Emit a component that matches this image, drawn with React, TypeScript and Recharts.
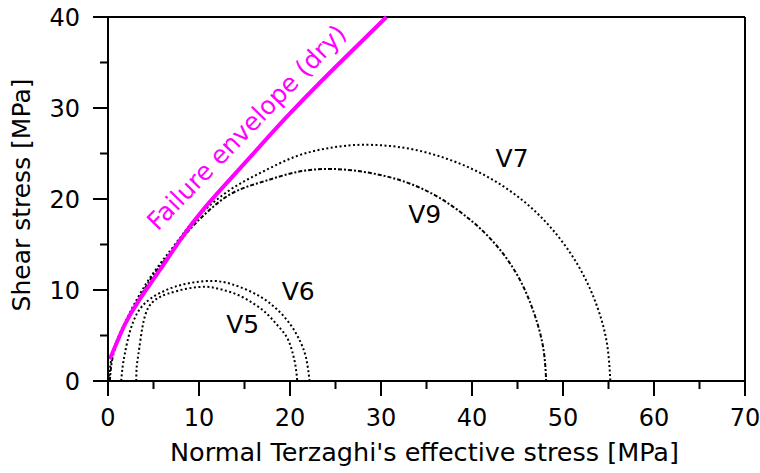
import React from "react";
import { LineChart, Line, XAxis, YAxis, ReferenceLine, ReferenceDot, Label } from "recharts";

const FONT = "'DejaVu Sans', sans-serif";
const MAGENTA = "#ff00ff";

const X_TICKS = [0, 5, 10, 15, 20, 25, 30, 35, 40, 45, 50, 55, 60, 65, 70];
const Y_TICKS = [0, 5, 10, 15, 20, 25, 30, 35, 40];

// failure envelope (dry)
const envelope: [number, number][] = [
  [0.2, 2.4], [1.8, 6.1], [3.3, 8.7], [5.7, 12.2], [8, 15.6], [10.6, 19],
  [13.9, 22.7], [16.7, 25.8], [20, 29.4], [24.7, 34.2], [30.6, 40],
];

// stress circles (normal stress, shear stress)
const v5: [number, number][] = [
  [3.1, 0], [3.15, 1.5], [3.35, 3], [3.8, 6], [4.4, 8.0], [5.3, 9.0], [6.6, 9.6],
  [8.7, 10.15], [10.8, 10.35], [12.5, 10.05], [14.3, 9.45], [16, 8.5], [17.4, 7.45],
  [18.6, 6.15], [19.6, 4.9], [20.2, 3.4], [20.6, 1.7], [20.8, 0],
];

const v6: [number, number][] = [
  [1.45, 0], [1.6, 1.5], [1.85, 3], [2.4, 5.4], [3.3, 7.6], [4.75, 9.1], [6.9, 10.2],
  [9.2, 10.8], [11.5, 11.0], [13.4, 10.7], [15.3, 10.0], [17.0, 9.1], [18.5, 7.95],
  [19.9, 6.4], [21.0, 4.6], [21.75, 2.6], [22.15, 0],
];

const v7: [number, number][] = [
  [0.1, 0], [0.3, 2], [0.8, 4], [1.8, 6.3], [3.3, 9.2], [5, 11.9], [6.9, 14.4],
  [8.5, 16.5], [10.2, 18.4], [13.4, 21.0], [17, 23], [20.7, 24.7], [24.3, 25.6],
  [28, 25.96], [32.7, 25.6], [37.3, 24.4], [41.6, 22.5], [45.5, 19.9], [48.8, 16.7],
  [51.6, 12.8], [53.6, 8.6], [54.8, 4.3], [55.2, 0],
];

const v9: [number, number][] = [
  [0.2, 0], [0.4, 2], [0.9, 4], [1.9, 6.3], [3.5, 9.2], [5.1, 11.8], [7, 14.2],
  [8.6, 16.2], [10.3, 18.0], [13.4, 20.5], [17, 21.9], [20.7, 22.95], [24.5, 23.3],
  [28.6, 22.9], [32.6, 21.9], [36.3, 20.2], [39.7, 17.8], [42.6, 15.0], [45.0, 11.6],
  [46.7, 7.8], [47.8, 3.8], [48.15, 0],
];

const CIRCLE_LABELS = [
  { name: "V7", x: 44.4, y: 24.5 },
  { name: "V9", x: 34.8, y: 18.3 },
  { name: "V6", x: 20.9, y: 9.9 },
  { name: "V5", x: 14.8, y: 6.3 },
];

const toPoints = (pairs: [number, number][]) => pairs.map(([x, y]) => ({ x, y }));

function XTick(props: any) {
  const { x, y, payload } = props;
  const major = payload.value % 10 === 0;
  return (
    <g>
      <line x1={x} y1={y} x2={x} y2={y + (major ? 15 : 8)} stroke="#000" strokeWidth={2} />
      {major && (
        <text x={x} y={y + 45} textAnchor="middle" fontSize={24} fontFamily={FONT} fill="#000">
          {payload.value}
        </text>
      )}
    </g>
  );
}

function YTick(props: any) {
  const { x, y, payload } = props;
  const major = payload.value % 10 === 0;
  return (
    <g>
      <line x1={x} y1={y} x2={x - (major ? 15 : 8)} y2={y} stroke="#000" strokeWidth={2} />
      {major && (
        <text x={x - 28} y={y + 8.5} textAnchor="end" fontSize={24} fontFamily={FONT} fill="#000">
          {payload.value}
        </text>
      )}
    </g>
  );
}

export default function App() {
  return (
    <div style={{ position: "absolute", left: 0, top: 0, background: "#fff" }}>
      <LineChart width={760} height={473} margin={{ top: 17, right: 15, left: 28, bottom: 0 }}>
        <XAxis
          type="number"
          dataKey="x"
          domain={[0, 70]}
          ticks={X_TICKS}
          interval={0}
          tick={<XTick />}
          tickLine={false}
          tickSize={0}
          tickMargin={0}
          height={92}
          axisLine={{ stroke: "#000", strokeWidth: 2 }}
        >
          <Label
            content={({ viewBox }: any) => (
              <text
                x={viewBox.x + viewBox.width / 2 - 2}
                y={viewBox.y + 80}
                textAnchor="middle"
                fontSize={25.5}
                fontFamily={FONT}
                fill="#000"
              >
                Normal Terzaghi's effective stress [MPa]
              </text>
            )}
          />
        </XAxis>
        <YAxis
          type="number"
          dataKey="y"
          domain={[0, 40]}
          ticks={Y_TICKS}
          interval={0}
          tick={<YTick />}
          tickLine={false}
          tickSize={0}
          tickMargin={0}
          width={80}
          axisLine={{ stroke: "#000", strokeWidth: 2 }}
        >
          <Label
            content={() => {
              const cx = 30;
              const cy = 195;
              return (
                <text
                  x={cx}
                  y={cy}
                  transform={`rotate(-90, ${cx}, ${cy})`}
                  textAnchor="middle"
                  fontSize={25}
                  fontFamily={FONT}
                  fill="#000"
                >
                  Shear stress [MPa]
                </text>
              );
            }}
          />
        </YAxis>
        <ReferenceLine y={40} stroke="#000" strokeWidth={2} />
        <ReferenceLine x={70} stroke="#000" strokeWidth={2} />

        <Line data={toPoints(v7)} dataKey="y" type="natural" stroke="#000" strokeWidth={2}
          strokeDasharray="2 2.5" dot={false} isAnimationActive={false} />
        <Line data={toPoints(v9)} dataKey="y" type="natural" stroke="#000" strokeWidth={2}
          strokeDasharray="4 2 2 2" dot={false} isAnimationActive={false} />
        <Line data={toPoints(v6)} dataKey="y" type="natural" stroke="#000" strokeWidth={2}
          strokeDasharray="2 2.5" dot={false} isAnimationActive={false} />
        <Line data={toPoints(v5)} dataKey="y" type="natural" stroke="#000" strokeWidth={2}
          strokeDasharray="2 2.5" dot={false} isAnimationActive={false} />
        <Line data={toPoints(envelope)} dataKey="y" type="natural" stroke={MAGENTA} strokeWidth={4}
          dot={false} isAnimationActive={false} />

        {CIRCLE_LABELS.map((l) => (
          <ReferenceDot
            key={l.name}
            x={l.x}
            y={l.y}
            r={0}
            fill="none"
            stroke="none"
            label={{ value: l.name, position: "center", fill: "#000", fontSize: 25, fontFamily: FONT }}
          />
        ))}
        <ReferenceDot
          x={15.2}
          y={27.9}
          r={0}
          fill="none"
          stroke="none"
          label={{
            value: "Failure envelope (dry)",
            position: "center",
            angle: -46,
            fill: MAGENTA,
            fontSize: 25,
            fontFamily: FONT,
          }}
        />
      </LineChart>
    </div>
  );
}
